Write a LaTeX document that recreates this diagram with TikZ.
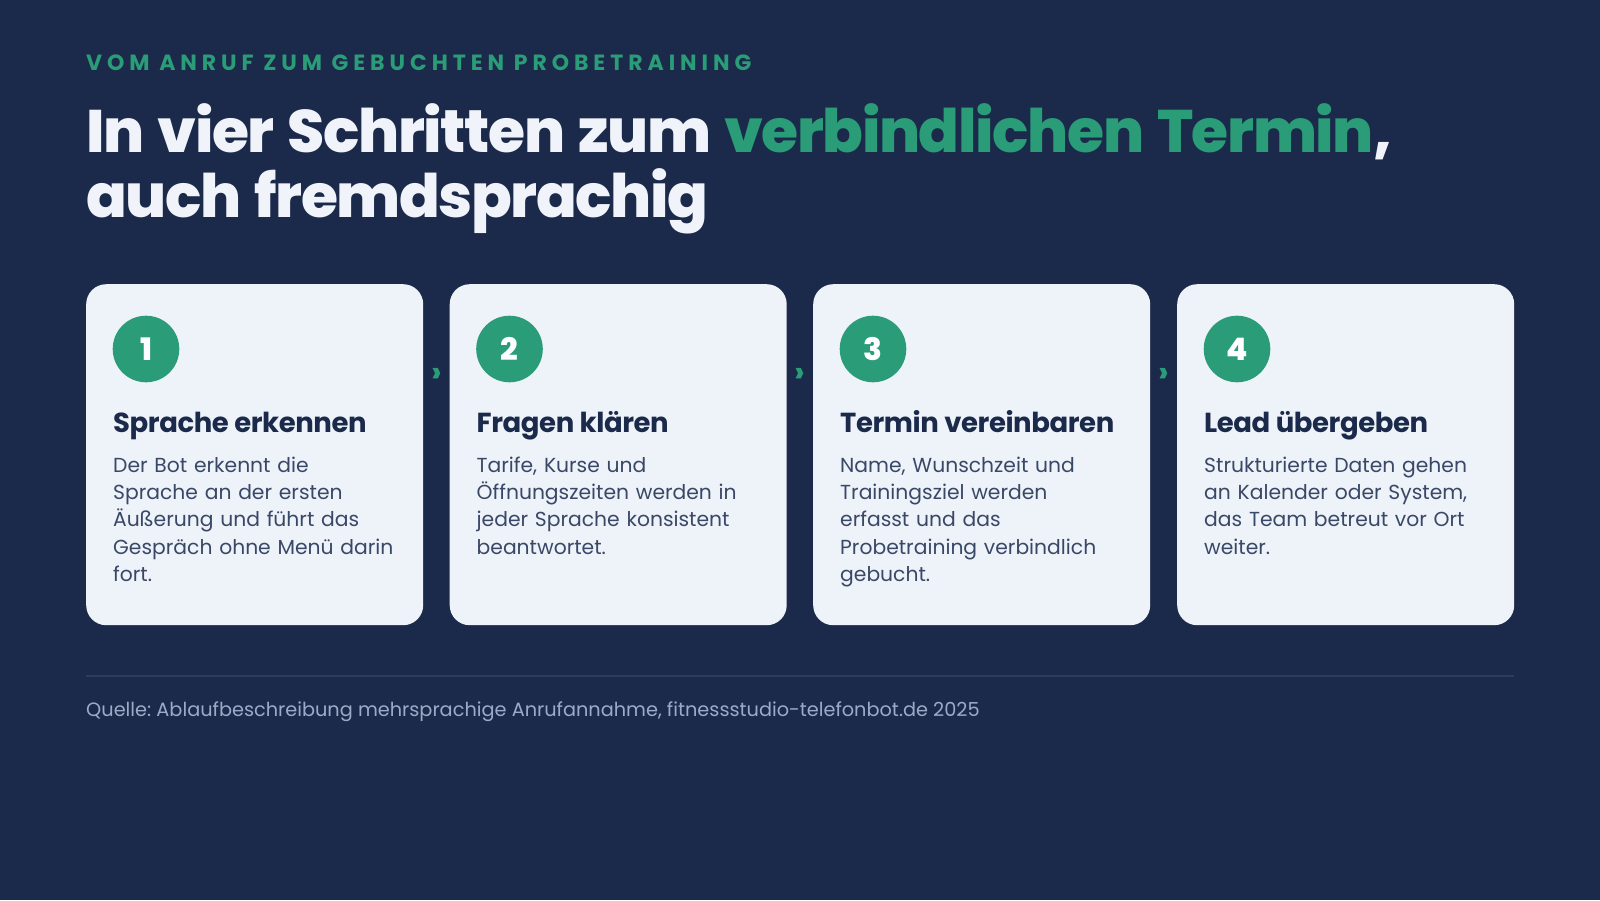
\documentclass[tikz,border=0pt]{standalone}
\usepackage{fontspec}
\setmainfont{Poppins}
\newfontfamily\heavyfont{Poppins ExtraBold}
\newfontfamily\titlefont{Poppins ExtraBold}[LetterSpace=-2.3]
\newfontfamily\headfont{Poppins Bold}[LetterSpace=-1.5]
\newfontfamily\kickerfont{Poppins Bold}[LetterSpace=22.5]
\newcommand\tightspaces{\spaceskip=13pt\relax}
\usetikzlibrary{calc}
\frenchspacing

\definecolor{bg}{HTML}{1B2A4A}
\definecolor{cardbg}{HTML}{EEF3F9}
\definecolor{accent}{HTML}{2A9D78}
\definecolor{ink}{HTML}{1B2A4A}
\definecolor{bodytext}{HTML}{3A4868}
\definecolor{muted}{HTML}{9AABC8}
\definecolor{rulecol}{HTML}{2C3D5E}
\definecolor{titlecol}{HTML}{F0F4FA}

\tikzset{
  card/.style = {fill = cardbg, rounded corners = 20pt, anchor = north west,
                 minimum width = 337pt, minimum height = 341pt, inner sep = 0pt},
  badge/.style = {circle, fill = accent, minimum size = 66.6pt, inner sep = 0pt,
                  text = white, font = \heavyfont\fontsize{31}{31}\selectfont},
  heading/.style = {anchor = base west, inner sep = 0pt, text = ink,
                    font = \headfont\fontsize{27.5}{30}\selectfont},
  body/.style = {anchor = base west, inner sep = 0pt, align = left, text width = 300pt,
                 text = bodytext, font = \fontsize{20.3}{27.3}\selectfont},
  chevron/.style = {text = accent, inner sep = 0pt,
                    font = \heavyfont\fontsize{30}{30}\selectfont}
}

\begin{document}
\begin{tikzpicture}[x = 1pt, y = -1pt]
  \fill[bg] (0, 0) rectangle (1600, 900);

  % header
  \node[anchor = base west, inner sep = 0pt, text = accent,
        font = \kickerfont\fontsize{22}{22}\selectfont] (kicker) at (86, 70.7)
        {VOM ANRUF ZUM GEBUCHTEN PROBETRAINING};
  \node[anchor = base west, inner sep = 0pt, align = left, text width = 1450pt,
        text = titlecol, font = \titlefont\fontsize{60}{65}\selectfont] (title) at (86, 152)
        {\tightspaces In vier Schritten zum {\color{accent}verbindlichen Termin},\\auch fremdsprachig};

  % cards
  \node[card] (c1) at (   86, 284) {};
  \node[card] (c2) at (449.5, 284) {};
  \node[card] (c3) at (  813, 284) {};
  \node[card] (c4) at ( 1177, 284) {};

  \node[badge] (n1) at ($(c1.north west) + (60, 65)$) {1};
  \node[badge] (n2) at ($(c2.north west) + (60, 65)$) {2};
  \node[badge] (n3) at ($(c3.north west) + (60, 65)$) {3};
  \node[badge] (n4) at ($(c4.north west) + (60, 65)$) {4};

  \node[heading] (h1) at ($(c1.north west) + (27, 148.7)$) {Sprache erkennen};
  \node[heading] (h2) at ($(c2.north west) + (27, 148.7)$) {Fragen klären};
  \node[heading] (h3) at ($(c3.north west) + (27, 148.7)$) {Termin vereinbaren};
  \node[heading] (h4) at ($(c4.north west) + (27, 148.7)$) {Lead übergeben};

  \node[body] (b1) at ($(c1.north west) + (27, 188.3)$)
        {Der Bot erkennt die\\Sprache an der ersten\\Äußerung und führt das\\Gespräch ohne Menü darin\\fort.};
  \node[body] (b2) at ($(c2.north west) + (27, 188.3)$)
        {Tarife, Kurse und\\Öffnungszeiten werden in\\jeder Sprache konsistent\\beantwortet.};
  \node[body] (b3) at ($(c3.north west) + (27, 188.3)$)
        {Name, Wunschzeit und\\Trainingsziel werden\\erfasst und das\\Probetraining verbindlich\\gebucht.};
  \node[body] (b4) at ($(c4.north west) + (27, 188.3)$)
        {Strukturierte Daten gehen\\an Kalender oder System,\\das Team betreut vor Ort\\weiter.};

  % chevrons between the cards
  \node[chevron] (a1) at ($(c1.north east)!0.5!(c2.north west) + (0, 91)$) {›};
  \node[chevron] (a2) at ($(c2.north east)!0.5!(c3.north west) + (0, 91)$) {›};
  \node[chevron] (a3) at ($(c3.north east)!0.5!(c4.north west) + (0, 91)$) {›};

  % footer
  \draw[rulecol, line width = 1.2pt] (86, 676) -- (1514, 676);
  \node[anchor = base west, inner sep = 0pt, text = muted,
        font = \fontsize{19.3}{19.3}\selectfont] (source) at (86, 716)
        {Quelle: Ablaufbeschreibung mehrsprachige Anrufannahme, fitnessstudio-telefonbot.de 2025};
\end{tikzpicture}
\end{document}
